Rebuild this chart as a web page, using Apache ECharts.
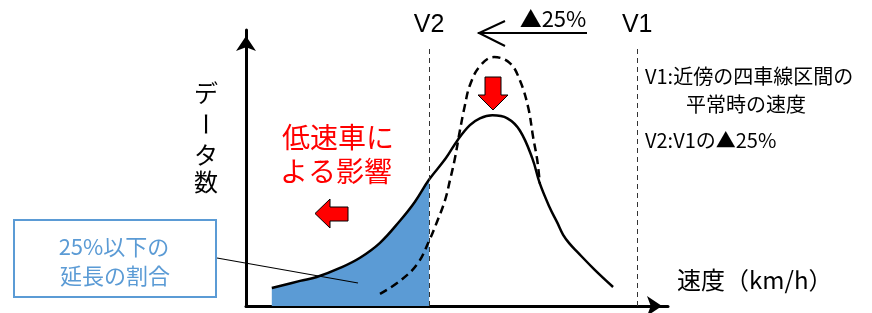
<!DOCTYPE html>
<html>
<head>
<meta charset="utf-8">
<script src="https://cdn.jsdelivr.net/npm/echarts@6/dist/echarts.min.js"></script>
<style>
  html, body { margin: 0; padding: 0; background: #fff; }
  #chart { width: 872px; height: 313px; }
</style>
</head>
<body>
<div id="chart"></div>
<script>
// 実測分布（実線）
const actualSpeed = [56.1, 59.5, 61.5, 64.3, 66.7, 69.1, 71.5, 73.3, 75.0, 77.0, 78.4, 79.9, 81.1, 82.6, 84.4, 85.9, 87.4, 88.3, 89.5, 90.4, 91.1, 91.9, 92.8, 94.9, 97.1]
const actualCount = [6.5, 9.1, 10.5, 13.8, 17.5, 22.9, 30.9, 37.8, 45.8, 53.5, 60.0, 65.5, 68.0, 69.1, 68.0, 63.6, 53.5, 44.4, 35.6, 30.2, 25.8, 22.5, 19.6, 13.1, 6.9]
// 本来の分布（破線）
const idealSpeed = [69.1, 71.5, 73.6, 75.0, 76.0, 76.9, 77.5, 78.1, 78.7, 79.3, 79.9, 81.1, 82.8, 84.7, 85.9, 86.9, 87.5, 88.0, 88.3]
const idealCount = [4.4, 9.1, 15.3, 23.6, 30.9, 38.2, 45.5, 53.5, 63.6, 72.7, 80.0, 86.9, 90.2, 88.0, 81.8, 72.0, 61.1, 52.7, 44.4]
// 基準速度
const refSpeed = [75, 100]
const refLabels = ['V2', 'V1']

const JP = '"Noto Sans CJK JP"'
const BLUE = '#5b9bd5'

const actualData = actualSpeed.map((s, i) => [s, actualCount[i]])
const idealData = idealSpeed.map((s, i) => [s, idealCount[i]])
const shadedData = actualData.filter((d) => d[0] <= refSpeed[0])

const chart = echarts.init(document.getElementById('chart'))

const axisArrow = {
  show: true,
  symbol: ['none', 'arrow'],
  symbolSize: [15, 15],
  symbolOffset: [0, -6],
  lineStyle: { color: '#000', width: 3 },
}

function txt(x, y, text, size, color, align, extra) {
  return Object.assign({
    type: 'text', x, y, z: 10,
    style: { text, font: size + 'px ' + JP, fill: color, align: align || 'left', verticalAlign: 'middle' },
  }, extra || {})
}

chart.setOption({
  animation: false,
  backgroundColor: '#fff',
  grid: { left: 246, top: 30, right: 204, bottom: 7 },
  xAxis: {
    type: 'value',
    min: 53,
    max: 103.7,
    axisLine: axisArrow,
    axisTick: { show: false },
    axisLabel: { show: false },
    splitLine: { show: false },
  },
  yAxis: {
    type: 'value',
    min: 0,
    max: 100,
    axisLine: axisArrow,
    axisTick: { show: false },
    axisLabel: { show: false },
    splitLine: { show: false },
  },
  series: [
    {
      type: 'line',
      data: shadedData,
      smooth: 0.4,
      showSymbol: false,
      lineStyle: { width: 0 },
      areaStyle: { color: BLUE, opacity: 1 },
      z: 1,
    },
    {
      type: 'line',
      data: actualData,
      smooth: 0.4,
      showSymbol: false,
      lineStyle: { color: '#000', width: 2.5 },
      z: 3,
      markLine: {
        silent: true,
        symbol: ['none', 'none'],
        lineStyle: { color: '#333', width: 1, type: [5, 4] },
        label: {
          show: true,
          position: 'end',
          distance: 9,
          formatter: '{b}',
          color: '#000',
          fontSize: 25,
          fontFamily: 'Liberation Sans',
        },
        data: refSpeed.map((s, i) => [
          { name: refLabels[i], coord: [s, 0] },
          { coord: [s, 94] },
        ]),
      },
    },
    {
      type: 'line',
      data: idealData,
      smooth: 0.4,
      showSymbol: false,
      lineStyle: { color: '#000', width: 2.5, type: [8, 5] },
      z: 4,
    },
  ],
  graphic: [
    // ▲25% の矢印
    { type: 'line', shape: { x1: 478, y1: 33, x2: 587, y2: 33 }, style: { stroke: '#000', lineWidth: 2 }, z: 10 },
    { type: 'polyline', shape: { points: [[505, 21], [479, 33], [505, 46]] }, style: { stroke: '#000', lineWidth: 2, fill: null }, z: 10 },
    txt(553, 19, '▲25%', 22, '#000', 'center'),
    // 赤矢印
    {
      type: 'polygon',
      shape: { points: [[485, 77], [501, 77], [501, 95], [508, 95], [493, 110], [478, 95], [485, 95]] },
      style: { fill: '#ff0000', stroke: '#000', lineWidth: 1 },
      z: 10,
    },
    {
      type: 'polygon',
      shape: { points: [[348, 207], [330, 207], [330, 199], [315, 213.5], [330, 228], [330, 221], [348, 221]] },
      style: { fill: '#ff0000', stroke: '#000', lineWidth: 1 },
      z: 10,
    },
    txt(338, 137, '低速車に', 28, '#ff0000', 'center'),
    txt(336, 171, 'よる影響', 28, '#ff0000', 'center'),
    // 縦軸名
    txt(206, 93, 'デ', 24, '#000', 'center'),
    txt(206, 124, 'ー', 24, '#000', 'center', { rotation: -Math.PI / 2 }),
    txt(206, 155, 'タ', 24, '#000', 'center'),
    txt(206, 182, '数', 24, '#000', 'center'),
    // 横軸名
    txt(677, 280, '速度（km/h）', 24, '#000'),
    // 注記
    txt(645, 76, 'V1:近傍の四車線区間の', 20, '#000'),
    txt(686, 104, '平常時の速度', 20, '#000'),
    txt(645, 140, 'V2:V1の▲25%', 20, '#000'),
    // 引出し線と枠
    { type: 'line', shape: { x1: 217, y1: 258, x2: 358, y2: 283 }, style: { stroke: '#000', lineWidth: 1.2 }, z: 10 },
    { type: 'rect', shape: { x: 14, y: 220, width: 202, height: 77 }, style: { fill: '#fff', stroke: BLUE, lineWidth: 2 }, z: 10 },
    txt(114, 247, '25%以下の', 22, BLUE, 'center', { z: 11 }),
    txt(115, 276, '延長の割合', 22, BLUE, 'center', { z: 11 }),
  ],
})
</script>
</body>
</html>
